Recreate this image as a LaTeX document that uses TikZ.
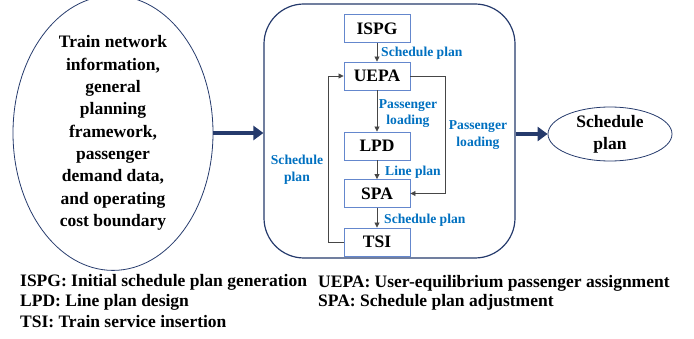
\documentclass[tikz,border=0pt]{standalone}
\usepackage{fontspec}
\setmainfont{Liberation Serif}
\usetikzlibrary{shapes.geometric,arrows.meta}
\definecolor{navy}{RGB}{37,58,108}
\definecolor{boxblue}{RGB}{100,135,205}
\definecolor{lblblue}{RGB}{0,112,192}
\definecolor{linegray}{RGB}{70,70,70}
\tikzset{
  big/.style={font=\fontsize{17.5}{22.3}\selectfont\bfseries, align=center},
  proc/.style={draw=boxblue, line width=0.9pt, minimum width=66pt, minimum height=28pt, inner sep=0pt, font=\fontsize{17.5}{20}\selectfont\bfseries},
  lbl/.style={text=lblblue, font=\fontsize{13.6}{16.5}\selectfont\bfseries, inner sep=0pt, align=center},
  thin/.style={draw=linegray, line width=0.8pt, -{Triangle[length=5pt,width=5pt]}},
  thick/.style={draw=navy, line width=4pt, -{Triangle[length=10pt,width=14pt]}},
  legend/.style={font=\fontsize{17.5}{20}\selectfont\bfseries, anchor=west, inner sep=0pt},
}
\begin{document}
\begin{tikzpicture}[x=1pt,y=-1pt]
\useasboundingbox (0,0) rectangle (694,339);
% left ellipse
\node[big, draw=navy, line width=0.8pt, ellipse, minimum width=200pt, minimum height=263pt, inner sep=0pt] (in) at (113,133)
  {Train network\\information,\\general\\planning\\framework,\\passenger\\demand data,\\and operating\\cost boundary};
% frame
\node[draw=navy, line width=1.2pt, rounded corners=40pt, minimum width=251pt, minimum height=254pt, inner sep=0pt] (frame) at (389.5,131) {};
% right ellipse
\node[big, draw=navy, line width=0.8pt, ellipse, minimum width=124pt, minimum height=49pt, inner sep=0pt] (out) at (610,134)
  {Schedule\\plan};
% thick arrows
\draw[thick] (in.east) -- (in.east -| frame.west);
\draw[thick] (out.west -| frame.east) -- (out.west);
% process boxes
\node[proc] (ispg) at (377,28.5) {ISPG};
\node[proc] (uepa) at (377,76) {UEPA};
\node[proc] (lpd)  at (377,146) {LPD};
\node[proc] (spa)  at (377,193.5) {SPA};
\node[proc] (tsi)  at (377,242) {TSI};
% arrows
\draw[thin] (ispg) -- (uepa);
\draw[thin] (uepa) -- (lpd);
\draw[thin] (lpd) -- (spa);
\draw[thin] (spa) -- (tsi);
\coordinate (rx) at (445,0);
\coordinate (lx) at (328,0);
\draw[thin] (uepa.east) -- (uepa.east -| rx) -- (spa.east -| rx) -- (spa.east);
\draw[thin] (tsi.west) -- (tsi.west -| lx) -- (uepa.west -| lx) -- (uepa.west);
% labels
\node[lbl, anchor=west] (l1) at (381,53) {Schedule plan};
\node[lbl] (l2) at (408,113.5) {Passenger\\loading};
\node[lbl] (l3) at (478,135) {Passenger\\loading};
\node[lbl, anchor=west] (l4) at (385,172) {Line plan};
\node[lbl, anchor=west] (l5) at (384,220) {Schedule plan};
\node[lbl] (l6) at (297,169.5) {Schedule\\plan};
% legend
\node[legend] (g1) at (20,282) {ISPG: Initial schedule plan generation};
\node[legend] (g2) at (318,283) {UEPA: User-equilibrium passenger assignment};
\node[legend] (g3) at (20,302) {LPD: Line plan design};
\node[legend] (g4) at (318,302) {SPA: Schedule plan adjustment};
\node[legend] (g5) at (20,322) {TSI: Train service insertion};
\end{tikzpicture}
\end{document}
